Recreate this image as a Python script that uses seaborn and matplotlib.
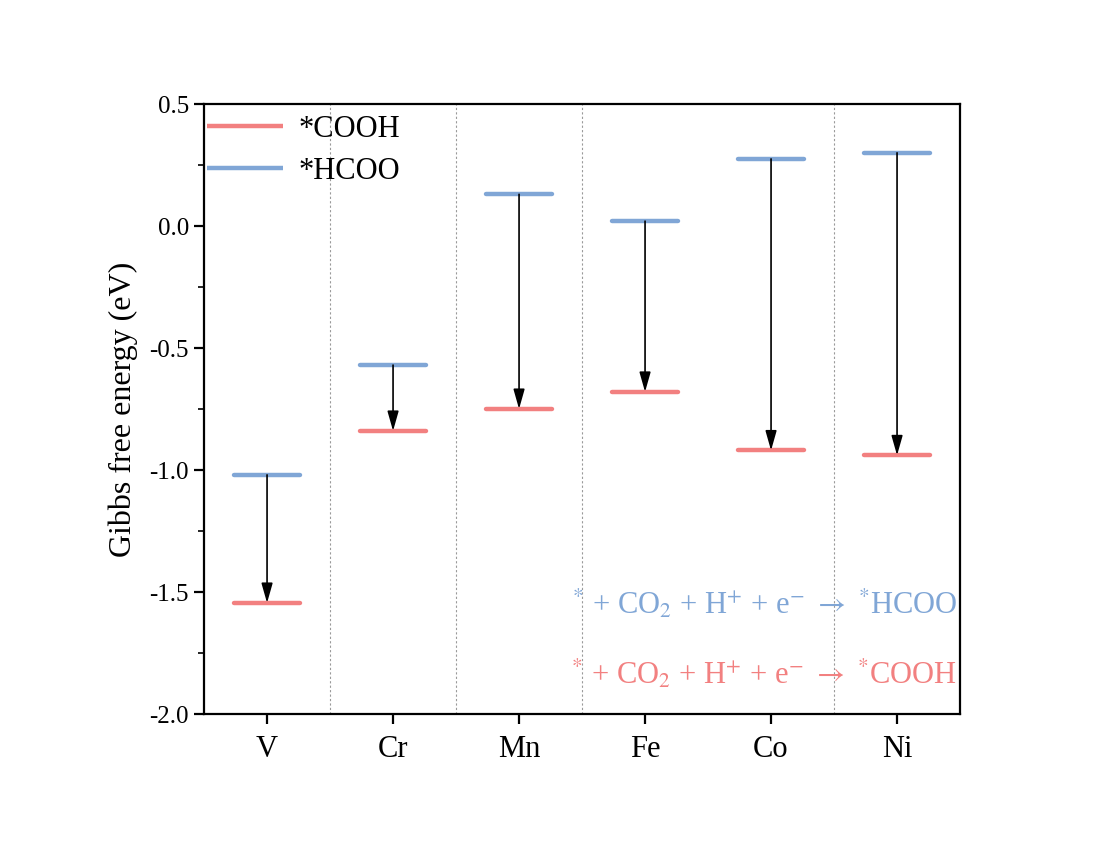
import matplotlib
matplotlib.use("Agg")
import matplotlib.pyplot as plt
import seaborn as sns
import pandas as pd
import numpy as np

# ---- data ----
metals = ["V", "Cr", "Mn", "Fe", "Co", "Ni"]
hcoo = [-1.02, -0.57, 0.13, 0.02, 0.275, 0.30]
cooh = [-1.545, -0.84, -0.75, -0.68, -0.92, -0.94]
separators = [0.5, 1.5, 2.5, 4.5]
yticks = [0.5, 0.0, -0.5, -1.0, -1.5, -2.0]
ytick_labels = ["0.5", "0.0", "-0.5", "-1.0", "-1.5", "-2.0"]

red = "#F28080"
blue = "#80A6D6"

sns.set_style("ticks")
plt.rcParams["font.family"] = ["Liberation Serif", "DejaVu Serif"]
plt.rcParams["mathtext.fontset"] = "stix"
for k in ["text.color", "axes.labelcolor", "xtick.color", "ytick.color", "axes.edgecolor"]:
    plt.rcParams[k] = "black"

df = pd.DataFrame({"metal": metals, "HCOO": hcoo, "COOH": cooh})
df["x"] = np.arange(len(metals))

fig = plt.figure(figsize=(11.03, 8.49), dpi=100)
ax = fig.add_axes([0.1850, 0.1590, 0.6854, 0.7185])

for s in separators:
    ax.axvline(s, color="#9a9a9a", lw=0.8, ls=(0, (2, 2)), zorder=1)

hw = 0.26
ax.hlines(df["COOH"], df["x"] - hw, df["x"] + hw, color=red, lw=3.2,
          capstyle="round", zorder=3, label="*COOH")
ax.hlines(df["HCOO"], df["x"] - hw, df["x"] + hw, color=blue, lw=3.2,
          capstyle="round", zorder=3, label="*HCOO")

for _, r in df.iterrows():
    ax.annotate("", xy=(r["x"], r["COOH"]), xytext=(r["x"], r["HCOO"]),
                arrowprops=dict(arrowstyle="-|>,head_length=0.6,head_width=0.17",
                                mutation_scale=20, color="black", lw=1.2,
                                shrinkA=0, shrinkB=0),
                zorder=4)

ax.set_xlim(-0.5, 5.5)
ax.set_ylim(-2.0, 0.5)
ax.set_xticks(df["x"])
ax.set_xticklabels(metals, fontsize=22)
ax.set_yticks(yticks)
ax.set_yticklabels(ytick_labels, fontsize=18)
ax.set_yticks(np.arange(-1.75, 0.5, 0.5), minor=True)
ax.tick_params(axis="both", which="major", direction="out", length=7, width=1.6, colors="black")
ax.tick_params(axis="y", which="minor", direction="out", length=4.5, width=1.2)
ax.tick_params(axis="x", pad=8)
ax.tick_params(axis="y", pad=4)
for sp in ax.spines.values():
    sp.set_visible(True)
    sp.set_linewidth(1.6)
    sp.set_color("black")

ax.set_ylabel("Gibbs free energy (eV)", fontsize=23, labelpad=8)
ax.set_xlabel("")

leg = ax.legend(loc="upper left", bbox_to_anchor=(-0.0105, 1.0), frameon=False,
                fontsize=22, handlelength=2.5, handletextpad=0.5,
                labelspacing=0.42, borderpad=0.35, borderaxespad=0.0)

trans = ax.get_yaxis_transform()
ax.text(0.996, -1.59, r"$^{*}$ + CO$_{2}$ + H$^{+}$ + e$^{-}$ $\rightarrow$ $^{*}$HCOO",
        transform=trans, ha="right", va="baseline", fontsize=22, color=blue)
ax.text(0.996, -1.877, r"$^{*}$ + CO$_{2}$ + H$^{+}$ + e$^{-}$ $\rightarrow$ $^{*}$COOH",
        transform=trans, ha="right", va="baseline", fontsize=22, color=red)

fig.savefig("out.png", dpi=100, facecolor="white")
